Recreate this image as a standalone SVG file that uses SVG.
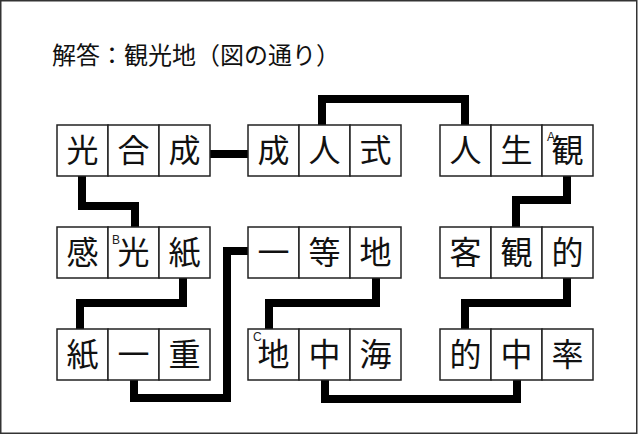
<svg xmlns="http://www.w3.org/2000/svg" width="640" height="435" viewBox="0 0 640 435">
<style>
.c{fill:#fff;stroke:#222;stroke-width:1.5}
.t{font-family:"Noto Sans CJK JP","Noto Sans CJK SC",sans-serif;font-size:32px;fill:#111;text-anchor:middle}
.title{font-family:"Noto Sans CJK JP","Noto Sans CJK SC",sans-serif;font-size:24px;fill:#111}
.lab{font-family:"Liberation Sans","DejaVu Sans",sans-serif;font-size:12px;fill:#222}
.con{fill:none;stroke:#000;stroke-width:8;stroke-linejoin:miter;stroke-linecap:butt}
</style>
<rect x="0" y="0" width="640" height="435" fill="#fff"/>
<rect x="0.75" y="0.75" width="636" height="432.5" fill="none" stroke="#333" stroke-width="1.5"/>
<text class="title" x="52" y="64">解答：観光地（図の通り）</text>
<g id="connectors">
<path class="con" d="M210,154 H248"/>
<path class="con" d="M82,176 V206 H135 V227"/>
<path class="con" d="M183,278 V303 H80 V329"/>
<path class="con" d="M134,380 V398 H227 V251 H248"/>
<path class="con" d="M376,278 V303 H269 V329"/>
<path class="con" d="M325,380 V399 H517 V380"/>
<path class="con" d="M567,278 V303 H465 V329"/>
<path class="con" d="M567,176 V200 H516 V227"/>
<path class="con" d="M322,125 V99 H465 V125"/>
</g>
<g id="n1">
<rect class="c" x="57" y="125" width="51" height="51"/><rect class="c" x="108" y="125" width="51" height="51"/><rect class="c" x="159" y="125" width="51" height="51"/>
<text class="t" x="82.5" y="162">光</text><text class="t" x="133.5" y="162">合</text><text class="t" x="184.5" y="162">成</text>
</g>
<g id="n2">
<rect class="c" x="248" y="125" width="51" height="51"/><rect class="c" x="299" y="125" width="51" height="51"/><rect class="c" x="350" y="125" width="51" height="51"/>
<text class="t" x="273.5" y="162">成</text><text class="t" x="324.5" y="162">人</text><text class="t" x="375.5" y="162">式</text>
</g>
<g id="n3">
<rect class="c" x="440" y="125" width="51" height="51"/><rect class="c" x="491" y="125" width="51" height="51"/><rect class="c" x="542" y="125" width="51" height="51"/>
<text class="t" x="465.5" y="162">人</text><text class="t" x="516.5" y="162">生</text><text class="t" x="567.5" y="162">観</text>
<text class="lab" x="547" y="141">A</text>
</g>
<g id="n4">
<rect class="c" x="57" y="227" width="51" height="51"/><rect class="c" x="108" y="227" width="51" height="51"/><rect class="c" x="159" y="227" width="51" height="51"/>
<text class="t" x="82.5" y="264">感</text><text class="t" x="133.5" y="264">光</text><text class="t" x="184.5" y="264">紙</text>
<text class="lab" x="112" y="244">B</text>
</g>
<g id="n5">
<rect class="c" x="248" y="227" width="51" height="51"/><rect class="c" x="299" y="227" width="51" height="51"/><rect class="c" x="350" y="227" width="51" height="51"/>
<text class="t" x="273.5" y="264">一</text><text class="t" x="324.5" y="264">等</text><text class="t" x="375.5" y="264">地</text>
</g>
<g id="n6">
<rect class="c" x="440" y="227" width="51" height="51"/><rect class="c" x="491" y="227" width="51" height="51"/><rect class="c" x="542" y="227" width="51" height="51"/>
<text class="t" x="465.5" y="264">客</text><text class="t" x="516.5" y="264">観</text><text class="t" x="567.5" y="264">的</text>
</g>
<g id="n7">
<rect class="c" x="57" y="329" width="51" height="51"/><rect class="c" x="108" y="329" width="51" height="51"/><rect class="c" x="159" y="329" width="51" height="51"/>
<text class="t" x="82.5" y="366">紙</text><text class="t" x="133.5" y="366">一</text><text class="t" x="184.5" y="366">重</text>
</g>
<g id="n8">
<rect class="c" x="248" y="329" width="51" height="51"/><rect class="c" x="299" y="329" width="51" height="51"/><rect class="c" x="350" y="329" width="51" height="51"/>
<text class="t" x="273.5" y="366">地</text><text class="t" x="324.5" y="366">中</text><text class="t" x="375.5" y="366">海</text>
<text class="lab" x="253" y="341">C</text>
</g>
<g id="n9">
<rect class="c" x="440" y="329" width="51" height="51"/><rect class="c" x="491" y="329" width="51" height="51"/><rect class="c" x="542" y="329" width="51" height="51"/>
<text class="t" x="465.5" y="366">的</text><text class="t" x="516.5" y="366">中</text><text class="t" x="567.5" y="366">率</text>
</g>
</svg>
